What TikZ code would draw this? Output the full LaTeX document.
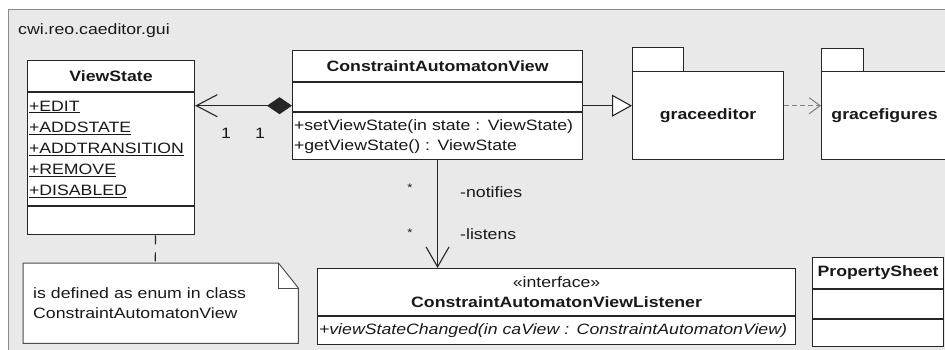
\documentclass[tikz,border=0pt]{standalone}
\usepackage{fontspec}
\setmainfont[FakeStretch=1.18]{Liberation Sans}
\usetikzlibrary{positioning,arrows.meta}
\definecolor{framefill}{RGB}{233,233,233}
\definecolor{frameline}{RGB}{140,140,140}

\begin{document}
\begin{tikzpicture}[x=1pt, y=-1pt, every node/.style={font=\fontsize{15}{21}\selectfont, text=black!90}]
\tikzset{
  cls/.style={draw=black!85, fill=white, line width=1.1pt, inner xsep=1.5pt, inner ysep=0pt},
  memb/.style={cls, text width=#1, align=left},
  pkg/.style={draw=black!85, fill=white, line width=1.1pt, inner sep=0pt, anchor=north west},
  lbl/.style={inner sep=0pt},
  conn/.style={draw=black!85, line width=1.1pt}
}
\useasboundingbox (0,0) rectangle (945,349);
\clip (0,0) rectangle (945,349);
\draw[fill=framefill, draw=frameline, line width=1pt] (8,9) rectangle (975,375);
\node[lbl, anchor=base west] (pkgname) at (18,34) {cwi.reo.caeditor.gui};

% ViewState
\node[cls, anchor=north west, minimum width=167, minimum height=31] (vs_head) at (27,60) {\bfseries ViewState};
\node[memb=164, minimum height=113, below=0pt of vs_head] (vs_attr) {\underline{+EDIT}\\\underline{+ADDSTATE}\\\underline{+ADDTRANSITION}\\\underline{+REMOVE}\\\underline{+DISABLED}};
\node[cls, minimum width=167, minimum height=28, below=0pt of vs_attr] (vs_ops) {};

% ConstraintAutomatonView
\node[cls, anchor=north west, minimum width=290, minimum height=31] (cav_head) at (292,50) {\bfseries ConstraintAutomatonView};
\node[cls, minimum width=290, minimum height=29, below=0pt of cav_head] (cav_attr) {};
\node[memb=287, minimum height=47, below=0pt of cav_attr, font=\fontsize{15}{20}\selectfont] (cav_ops) {+setViewState(in state : ViewState)\\+getViewState() : ViewState};

% packages
\node[pkg, minimum width=51, minimum height=24] (ge_tab) at (632,47) {};
\node[pkg, minimum width=151, minimum height=88] (ge_body) at (632,71) {\bfseries graceeditor};
\node[pkg, minimum width=42, minimum height=23] (gf_tab) at (821,48) {};
\node[pkg, minimum width=126, minimum height=88] (gf_body) at (821,71) {\bfseries gracefigures};

% listener interface
\node[cls, anchor=north west, minimum width=478, minimum height=47, align=center, font=\fontsize{15}{20}\selectfont] (cavl_head) at (317,268) {«interface»\\\bfseries ConstraintAutomatonViewListener};
\node[memb=475, minimum height=28, below=0pt of cavl_head] (cavl_ops) {\itshape +viewStateChanged(in caView : ConstraintAutomatonView)};

% PropertySheet
\node[cls, anchor=north west, minimum width=131, minimum height=31] (ps_head) at (812,257) {\bfseries PropertySheet};
\node[cls, minimum width=131, minimum height=28.5, below=0pt of ps_head] (ps_attr) {};
\node[cls, minimum width=131, minimum height=27, below=0pt of ps_attr] (ps_ops) {};

% note
\node[inner sep=0pt, anchor=north west, minimum width=275, minimum height=80] (note) at (23,263) {};
\draw[draw=black!70, fill=white, line width=1pt] (note.north west) -- ([xshift=-20pt]note.north east) -- ([yshift=-25pt]note.north east) -- (note.south east) -- (note.south west) -- cycle;
\draw[draw=black!70, line width=1pt] ([xshift=-20pt]note.north east) -- ([xshift=-20pt, yshift=-25pt]note.north east) -- ([yshift=-25pt]note.north east);
\node[inner xsep=10pt, text width=255, align=left, font=\fontsize{15}{20}\selectfont] (note_txt) at (note.center) {is defined as enum in class\\ConstraintAutomatonView};
\draw[conn, dash pattern=on 9pt off 8pt] ([xshift=44.5pt]vs_ops.south) -- ([xshift=-5.5pt]note.north);

% connectors
\coordinate (cav_l) at ([yshift=6.5pt]cav_attr.south west);
\coordinate (cav_r) at ([yshift=6.5pt]cav_attr.south east);
\draw[conn, {Diamond[length=25pt, width=17pt]}-{Straight Barb[length=21pt, width=22pt]}] (cav_l) -- (cav_l -| vs_attr.east);
\draw[conn, -{Triangle[length=20pt, width=22pt, fill=white]}] (cav_r) -- (cav_r -| ge_body.west);
\draw[conn, draw=gray, line width=1pt, dash pattern=on 5pt off 3pt, -{Straight Barb[length=11pt, width=16pt]}] (cav_r -| ge_body.east) -- (cav_r -| gf_body.west);
\draw[conn, -{Straight Barb[length=20pt, width=23pt]}] (cav_ops.south) -- (cav_ops.south |- cavl_head.north);

% labels
\node[lbl] (mult_vs) at (226,133) {1};
\node[lbl] (mult_cav) at (260,133) {1};
\node[lbl, font=\fontsize{11}{11}\selectfont] (mult_n) at (410,188) {*};
\node[lbl, font=\fontsize{11}{11}\selectfont] (mult_l) at (410,233) {*};
\node[lbl, anchor=west] (role_n) at (460,192) {-notifies};
\node[lbl, anchor=west] (role_l) at (460,234) {-listens};
\end{tikzpicture}
\end{document}
